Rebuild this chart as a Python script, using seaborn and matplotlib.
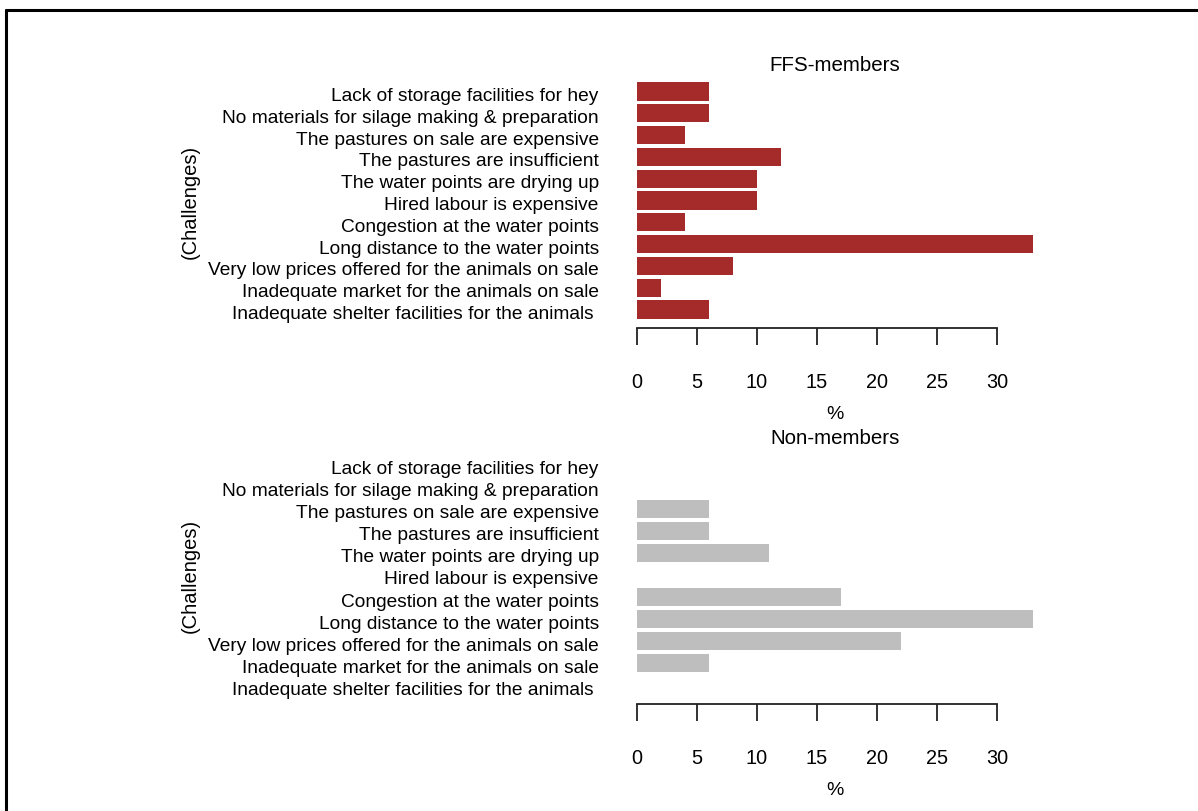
import matplotlib
matplotlib.use('Agg')
import matplotlib.pyplot as plt
import matplotlib.transforms as mtransforms
import seaborn as sns
import pandas as pd

# Challenges, top to bottom as drawn
challenges = [
    'Lack of storage facilities for hey',
    'No materials for silage making & preparation',
    'The pastures on sale are expensive',
    'The pastures are insufficient',
    'The water points are drying up',
    'Hired labour is expensive',
    'Congestion at the water points',
    'Long distance to the water points',
    'Very low prices offered for the animals on sale',
    'Inadequate market for the animals on sale',
    'Inadequate shelter facilities for the animals ',
]
ffs_members = [6, 6, 4, 12, 10, 10, 4, 33, 8, 2, 6]
non_members = [0, 0, 6, 6, 11, 0, 17, 33, 22, 6, 0]
x_ticks = [0, 5, 10, 15, 20, 25, 30]

sns.set_style('white')
plt.rcParams['font.family'] = ['Liberation Sans', 'DejaVu Sans']
plt.rcParams['text.color'] = 'black'
plt.rcParams['axes.labelcolor'] = 'black'
plt.rcParams['xtick.color'] = 'black'
plt.rcParams['ytick.color'] = 'black'

W, H = 1198, 812
fig = plt.figure(figsize=(W / 100, H / 100), dpi=100)

# frame around the figure (left and top edges visible)
fig.add_artist(plt.Line2D([6 / W, 6 / W], [0, 1 - 11 / H], color='black', lw=2.2))
fig.add_artist(plt.Line2D([6 / W, 1], [1 - 11 / H, 1 - 11 / H], color='black', lw=2.2))


def draw_panel(top_px, bottom_px, values, color, title):
    ax = fig.add_axes([621 / W, 1 - bottom_px / H, 428 / W, (bottom_px - top_px) / H])
    df = pd.DataFrame({'challenge': challenges, 'pct': values})
    sns.barplot(data=df, x='pct', y='challenge', order=challenges, orient='h',
                color=color, width=0.833, saturation=1, edgecolor='none', ax=ax)
    ax.set_xlim(-1.32, 34.32)
    ax.set_ylim(len(challenges) - 1 + 0.85, -0.85)
    for s in ['left', 'top', 'right']:
        ax.spines[s].set_visible(False)
    ax.spines['bottom'].set_bounds(0, 30)
    ax.spines['bottom'].set_color('#222222')
    ax.spines['bottom'].set_linewidth(1.3)
    ax.set_xticks(x_ticks)
    ax.tick_params(axis='x', direction='out', length=12.5, width=1.3, color='#222222',
                   pad=19.5, labelsize=14.3, bottom=True)
    ax.tick_params(axis='y', length=0, pad=16, labelsize=13.8)
    # category labels sit a little below the bar centres
    shift = mtransforms.ScaledTranslation(0, -2 / 100, fig.dpi_scale_trans)
    for lbl in ax.get_yticklabels():
        lbl.set_transform(lbl.get_transform() + shift)
    ax.set_xlabel('%', fontsize=14, labelpad=10)
    ax.set_ylabel('(Challenges)', fontsize=14.5, labelpad=2)
    ax.yaxis.set_label_coords(-(621 - 200) / 428, 0.5)
    ax.set_title(title, fontsize=14.8, pad=2)
    return ax


draw_panel(74, 329, ffs_members, '#A52A2A', 'FFS-members')
draw_panel(447, 705, non_members, '#BEBEBE', 'Non-members')

fig.savefig('out.png', dpi=100)
